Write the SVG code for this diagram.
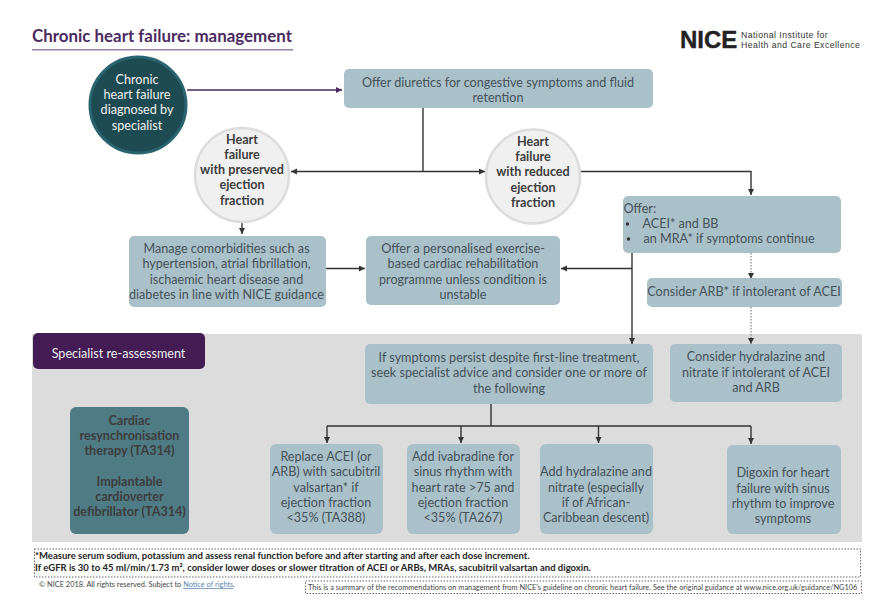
<svg xmlns="http://www.w3.org/2000/svg" width="870" height="600" viewBox="0 0 870 600">
<style>
text{font-family:Lato,"Liberation Sans",sans-serif;font-size:12.6px;fill:#44525a;text-anchor:middle}
.box{fill:#abc1c9}
.b{font-weight:700;fill:#3d3d3d}
.w{fill:#f0f0f0}
.c{fill:#f0f0f0;stroke:#dcdcdc;stroke-width:2.5}
.l{fill:none;stroke:#333;stroke-width:1.4}
.d{fill:none;stroke:#666;stroke-width:1;stroke-dasharray:1.5 1.5}
.s{font-size:7.4px;text-anchor:start;fill:#444}
.f{font-size:9.5px;font-weight:700;fill:#222;text-anchor:start}
.st{text-anchor:start}
.lg{font-family:"Liberation Sans",sans-serif;font-size:8.7px;letter-spacing:.45px;fill:#333;text-anchor:start}
</style>
<defs><marker id="a" markerWidth="7" markerHeight="7" refX="6" refY="3" orient="auto" markerUnits="userSpaceOnUse"><path d="M0 0L6 3L0 6z" fill="#333"/></marker>
<marker id="p" markerWidth="7" markerHeight="7" refX="6" refY="3" orient="auto" markerUnits="userSpaceOnUse"><path d="M0 0L6 3L0 6z" fill="#4a2a60"/></marker></defs>
<rect id="band" x="32" y="334" width="830" height="208" fill="#dcdcdc"/>
<g id="title"><text x="32" y="41.500" class="st" style="font-size:16.9px;font-weight:700;fill:#4a2a60">Chronic heart failure: management</text><rect x="32" y="49" width="261" height="1.500" fill="#9a7fa6"/></g>
<g id="logo"><text x="680" y="48" style="font-family:'Liberation Sans',sans-serif;font-size:24px;font-weight:700;fill:#222;text-anchor:start;stroke:#222;stroke-width:.4">NICE</text><text class="lg" x="741" y="37.500">National Institute for</text><text class="lg" x="741" y="47.500">Health and Care Excellence</text></g>
<g id="connectors">
<path d="M187 90H342" fill="none" stroke="#4a2a60" stroke-width="1.400" marker-end="url(#p)"/>
<path class="l" d="M423 108V171.500"/>
<path class="l" d="M423 171.500H291" marker-end="url(#a)"/>
<path class="l" d="M423 171.500H485" marker-end="url(#a)"/>
<path class="l" d="M581 171.500H751V195" marker-end="url(#a)"/>
<path class="l" d="M242 220V234" marker-end="url(#a)"/>
<path class="l" d="M326 268.500H365" marker-end="url(#a)"/>
<path class="l" d="M632 268.500H561" marker-end="url(#a)"/>
<path class="l" d="M632 253V344" marker-end="url(#a)"/>
<path class="d" d="M751 253V279" marker-end="url(#a)"/>
<path class="d" d="M751 307V344" marker-end="url(#a)"/>
<path class="l" d="M491 404V426"/>
<path class="l" d="M327 426H751"/>
<path class="l" d="M327 426V443" marker-end="url(#a)"/>
<path class="l" d="M461 426V443" marker-end="url(#a)"/>
<path class="l" d="M598.500 426V443" marker-end="url(#a)"/>
<path class="l" d="M751 426V444" marker-end="url(#a)"/>
</g>
<g id="n-diag"><circle cx="138" cy="105" r="48" fill="#1e4a52" stroke="#2a6470" stroke-width="3"/><text class="w" x="137" y="84">Chronic</text><text class="w" x="137" y="99">heart failure</text><text class="w" x="137" y="114">diagnosed by</text><text class="w" x="137" y="130">specialist</text></g>
<g id="n-diuretics"><rect class="box" x="344" y="69" width="309" height="39" rx="5"/><text x="498" y="87">Offer diuretics for congestive symptoms and fluid</text><text x="498" y="102">retention</text></g>
<g id="n-pef"><circle class="c" cx="242" cy="175" r="47"/><text class="b" x="242" y="143.500">Heart</text><text class="b" x="242" y="159">failure</text><text class="b" x="242" y="174">with preserved</text><text class="b" x="242" y="189">ejection</text><text class="b" x="242" y="204.500">fraction</text></g>
<g id="n-ref"><circle class="c" cx="533" cy="176.500" r="47"/><text class="b" x="533" y="145.500">Heart</text><text class="b" x="533" y="161">failure</text><text class="b" x="533" y="176">with reduced</text><text class="b" x="533" y="191.500">ejection</text><text class="b" x="533" y="207">fraction</text></g>
<g id="n-offer"><rect class="box" x="623" y="196" width="218" height="57" rx="5"/><text x="623.500" y="213" class="st">Offer:</text><circle cx="627.500" cy="224" r="1.700" fill="#333"/><circle cx="628.500" cy="239" r="1.700" fill="#333"/><text x="642.500" y="228" class="st">ACEI* and BB</text><text x="643.500" y="243" class="st">an MRA* if symptoms continue</text></g>
<g id="n-arb"><rect class="box" x="647" y="278" width="195" height="29" rx="5"/><text x="744" y="295.500">Consider ARB* if intolerant of ACEI</text></g>
<g id="n-comorb"><rect class="box" x="129" y="236" width="197" height="71" rx="5"/><text x="226.500" y="253">Manage comorbidities such as</text><text x="226.500" y="268">hypertension, atrial fibrillation,</text><text x="226.500" y="284">ischaemic heart disease and</text><text x="226.500" y="299">diabetes in line with NICE guidance</text></g>
<g id="n-rehab"><rect class="box" x="366" y="236" width="194" height="69" rx="5"/><text x="463" y="253">Offer a personalised exercise-</text><text x="463" y="268">based cardiac rehabilitation</text><text x="463" y="284">programme unless condition is</text><text x="463" y="299">unstable</text></g>
<g id="n-reassess"><rect x="33" y="333" width="172" height="36" rx="5" fill="#431c54"/><text x="118.500" y="358" style="fill:#eee">Specialist re-assessment</text></g>
<g id="n-symptoms"><rect class="box" x="365" y="344" width="288" height="60" rx="5"/><text x="509" y="362">If symptoms persist despite first-line treatment,</text><text x="509" y="377">seek specialist advice and consider one or more of</text><text x="509" y="393">the following</text></g>
<g id="n-hydra1"><rect class="box" x="670" y="344" width="172" height="58" rx="5"/><text x="756" y="361">Consider hydralazine and</text><text x="756" y="376.500">nitrate if intolerant of ACEI</text><text x="756" y="392">and ARB</text></g>
<g id="n-device"><rect x="70" y="407" width="119" height="127" rx="6" fill="#4f7b85"/><text class="b" x="129.500" y="424.500">Cardiac</text><text class="b" x="129.500" y="439.500">resynchronisation</text><text class="b" x="129.500" y="455">therapy (TA314)</text><text class="b" x="129.500" y="485.500">Implantable</text><text class="b" x="129.500" y="500.500">cardioverter</text><text class="b" x="129.500" y="516">defibrillator (TA314)</text></g>
<g id="n-sacu"><rect class="box" x="270" y="444" width="113" height="90" rx="6"/><text x="326" y="461">Replace ACEI (or</text><text x="326" y="476">ARB) with sacubitril</text><text x="326" y="491.500">valsartan* if</text><text x="326" y="507">ejection fraction</text><text x="326" y="522">&lt;35% (TA388)</text></g>
<g id="n-ivab"><rect class="box" x="407" y="444" width="113" height="90" rx="6"/><text x="463" y="461">Add ivabradine for</text><text x="463" y="476">sinus rhythm with</text><text x="463" y="492">heart rate &gt;75 and</text><text x="463" y="507">ejection fraction</text><text x="463" y="522">&lt;35% (TA267)</text></g>
<g id="n-hydra2"><rect class="box" x="540" y="444" width="113" height="90" rx="6"/><text x="596" y="476">Add hydralazine and</text><text x="596" y="492">nitrate (especially</text><text x="596" y="507">if of African-</text><text x="596" y="522">Caribbean descent)</text></g>
<g id="n-digoxin"><rect class="box" x="727" y="445" width="114" height="89" rx="6"/><text x="783" y="477">Digoxin for heart</text><text x="783" y="492.500">failure with sinus</text><text x="783" y="508">rhythm to improve</text><text x="783" y="523">symptoms</text></g>
<g id="footnote"><rect class="d" x="34.500" y="549" width="826" height="28" fill="#fff"/><text class="f" x="35" y="558.700">*Measure serum sodium, potassium and assess renal function before and after starting and after each dose increment.</text><text class="f" x="35" y="570.500">If eGFR is 30 to 45 ml/min/1.73 m², consider lower doses or slower titration of ACEI or ARBs, MRAs, sacubitril valsartan and digoxin.</text></g>
<g id="copyright"><text class="s" x="39" y="587">© NICE 2018. All rights reserved. Subject to <tspan fill="#5b86b0" text-decoration="underline">Notice of rights</tspan>.</text></g>
<g id="summary"><rect class="d" x="305.500" y="581" width="556" height="12.500" fill="#fff"/><text class="s" x="308" y="589.500">This is a summary of the recommendations on management from NICE's guideline on chronic heart failure. See the original guidance at www.nice.org.uk/guidance/NG106</text></g>
</svg>
